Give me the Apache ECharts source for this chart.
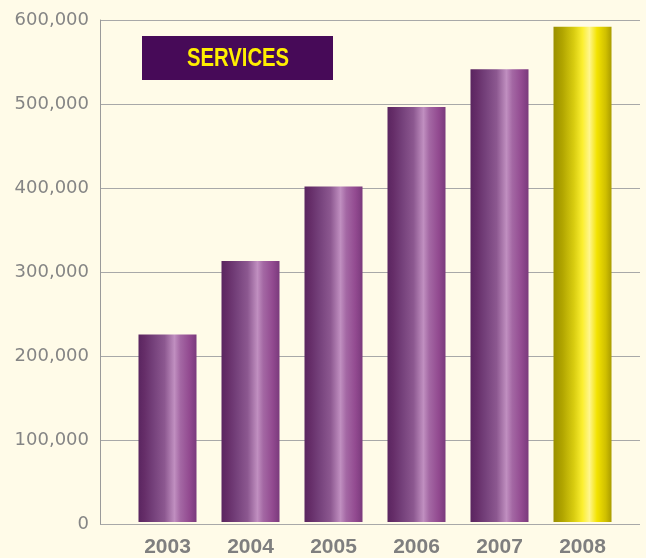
<!DOCTYPE html>
<html>
<head>
<meta charset="utf-8">
<script src="https://cdn.jsdelivr.net/npm/echarts@6/dist/echarts.min.js"></script>
<style>
html,body{margin:0;padding:0;background:#fffbe8;}
#c{width:646px;height:558px;}
</style>
</head>
<body>
<div id="c"></div>
<script>
const categories = ['2003','2004','2005','2006','2007','2008'];
const values = [224000, 312000, 401000, 496000, 541000, 592000];
const yTicks = [0, 100000, 200000, 300000, 400000, 500000, 600000];
const titleText = 'SERVICES';

const purple = new echarts.graphic.LinearGradient(0,0,1,0,[
  {offset:0, color:'#5a2560'},
  {offset:0.1, color:'#652d68'},
  {offset:0.25, color:'#74407a'},
  {offset:0.45, color:'#8c5890'},
  {offset:0.62, color:'#c08fc0'},
  {offset:0.72, color:'#a468a4'},
  {offset:0.88, color:'#924a90'},
  {offset:1, color:'#7a3a7c'}
]);
const yellow = new echarts.graphic.LinearGradient(0,0,1,0,[
  {offset:0, color:'#9a8f00'},
  {offset:0.15, color:'#b0a400'},
  {offset:0.35, color:'#d8cc10'},
  {offset:0.5, color:'#fbef30'},
  {offset:0.62, color:'#fff68c'},
  {offset:0.75, color:'#f3e300'},
  {offset:0.9, color:'#d0c000'},
  {offset:1, color:'#aa9c00'}
]);

const chart = echarts.init(document.getElementById('c'), null, {renderer:'canvas'});
const fmt = v => v.toLocaleString('en-US');
chart.setOption({
  backgroundColor:'#fffbe8',
  animation:false,
  grid:[
    {left:126, right:22, top:20, bottom:34},
    {left:100, right:6, top:20, bottom:34}
  ],
  xAxis:[
    {type:'category', gridIndex:0, data:categories,
     axisLine:{show:false}, axisTick:{show:false},
     axisLabel:{margin:15, color:'#7f7f7f', fontSize:21, fontWeight:'bold', fontFamily:'Liberation Sans'}},
    {type:'value', gridIndex:1, show:false, min:0, max:1}
  ],
  yAxis:[
    {type:'value', gridIndex:0, min:yTicks[0], max:yTicks[yTicks.length-1], interval:yTicks[1]-yTicks[0], show:false, splitLine:{show:false}},
    {type:'value', gridIndex:1, min:yTicks[0], max:yTicks[yTicks.length-1], interval:yTicks[1]-yTicks[0],
     axisLine:{show:true, lineStyle:{color:'#9a9a9a', width:1}},
     axisTick:{show:false},
     splitLine:{show:true, lineStyle:{color:'#a8a8a8', width:1}},
     axisLabel:{margin:11, color:'#858585', fontSize:18, fontFamily:'DejaVu Sans', formatter:fmt}}
  ],
  series:[{
    type:'bar', xAxisIndex:0, yAxisIndex:0, barWidth:58,
    data: values.map((v,i)=>({value:v, itemStyle:{color: i===values.length-1 ? yellow : purple}})),
    itemStyle:{borderWidth:0}
  }],
  graphic:[
    {type:'rect', left:142, top:36, shape:{width:191, height:44}, style:{fill:'#470a58'}, z:10},
    {type:'text', x:238, y:59, scaleX:0.78, z:11,
     style:{text:titleText, fill:'#ffee00', font:'bold 26px "Liberation Sans"', textAlign:'center', textVerticalAlign:'middle'}}
  ]
});
</script>
</body>
</html>
